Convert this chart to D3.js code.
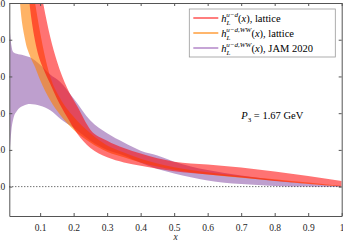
<!DOCTYPE html>
<html>
<head>
<meta charset="utf-8">
<script src="https://cdn.jsdelivr.net/npm/d3@7"></script>
<style>
  body { margin: 0; background: #fff; }
  svg text { font-family: "Liberation Serif", "DejaVu Serif", serif; }
</style>
</head>
<body>
<div id="chart"></div>
<script>
// lattice h_L^{u-d}(x) band
var redX  = [0.05, 0.07, 0.09, 0.11, 0.13, 0.15, 0.18, 0.21, 0.25, 0.3, 0.35, 0.4, 0.45, 0.5, 0.6, 0.7, 0.8, 0.9, 1.0]
var redLo = [6.8, 4.85, 3.75, 3.2, 2.8, 2.4, 1.9, 1.45, 1.05, 0.8, 0.66, 0.57, 0.49, 0.42, 0.33, 0.25, 0.15, 0.07, 0.01]
var redHi = [9.0, 7.2, 6.0, 4.95, 4.08, 3.42, 2.7, 2.2, 1.55, 1.25, 1.05, 0.9, 0.77, 0.68, 0.6, 0.52, 0.41, 0.29, 0.15]

// lattice WW band
var wwX  = [0.03, 0.04, 0.055, 0.07, 0.085, 0.1, 0.13, 0.16, 0.2, 0.25, 0.3, 0.35, 0.4, 0.5, 0.6, 0.7, 0.8, 0.9, 1.0]
var wwLo = [6.5, 5.0, 4.0, 3.55, 3.25, 2.9, 2.35, 1.95, 1.55, 1.2, 0.95, 0.8, 0.66, 0.46, 0.33, 0.24, 0.16, 0.08, 0.0]
var wwHi = [10, 8.5, 7.0, 5.9, 5.0, 4.2, 3.0, 2.4, 1.9, 1.45, 1.12, 0.93, 0.76, 0.53, 0.39, 0.29, 0.2, 0.11, 0.02]

// JAM 2020 WW band
var jamX  = [0.01, 0.015, 0.02, 0.03, 0.05, 0.07, 0.1, 0.13, 0.16, 0.2, 0.25, 0.3, 0.35, 0.4, 0.45, 0.5, 0.6, 0.7, 0.8, 0.9, 1.0]
var jamLo = [1.05, 1.6, 1.85, 2.05, 2.2, 2.25, 2.2, 2.08, 1.85, 1.6, 1.25, 1.0, 0.85, 0.65, 0.48, 0.36, 0.17, 0.07, 0.02, 0.0, -0.01]
var jamHi = [4.2, 3.8, 3.66, 3.62, 3.58, 3.52, 3.32, 3.05, 2.85, 2.4, 1.8, 1.45, 1.2, 0.98, 0.85, 0.68, 0.45, 0.3, 0.18, 0.08, 0.02]

var xTicks = [0.1, 0.2, 0.3, 0.4, 0.5, 0.6, 0.7, 0.8, 0.9, 1]
var yTicks = [0, 1, 2, 3, 4, 5]

var width = 343, height = 244
var margin = {top: 3, right: 1.3, bottom: 28, left: 9.3}
var w = width - margin.left - margin.right,
    h = height - margin.top - margin.bottom

var svg = d3.select("#chart").append("svg")
    .attr("width", width)
    .attr("height", height)

var g = svg.append("g")
    .attr("transform", "translate(" + margin.left + "," + margin.top + ")")

var x = d3.scaleLinear().domain([0.008, 1]).range([0, w])
var y = d3.scaleLinear().domain([-0.8, 5]).range([h, 0])

g.append("clipPath").attr("id", "clip")
  .append("rect").attr("width", w).attr("height", h)

function band(xs, lo, hi) {
  return xs.map(function (v, i) { return {x: v, lo: lo[i], hi: hi[i]} })
}

var area = d3.area()
    .x(function (d) { return x(d.x) })
    .y0(function (d) { return y(d.lo) })
    .y1(function (d) { return y(d.hi) })
    .curve(d3.curveMonotoneX)

var plot = g.append("g").attr("clip-path", "url(#clip)")

plot.append("path").datum(band(jamX, jamLo, jamHi))
    .attr("d", area).attr("fill", "#7e3f9e").attr("fill-opacity", 0.5)
plot.append("path").datum(band(wwX, wwLo, wwHi))
    .attr("d", area).attr("fill", "#ff8000").attr("fill-opacity", 0.6)
plot.append("path").datum(band(redX, redLo, redHi))
    .attr("d", area).attr("fill", "#ff0000").attr("fill-opacity", 0.55)

// zero line
g.append("line")
    .attr("x1", 0).attr("x2", w)
    .attr("y1", y(0)).attr("y2", y(0))
    .attr("stroke", "#000").attr("stroke-width", 0.8)
    .attr("stroke-dasharray", "1,2")

// axes (ticks inside, box all round)
function style(sel) {
  sel.select(".domain").attr("stroke", "#555")
  sel.selectAll(".tick line").attr("stroke", "#555")
  sel.selectAll(".tick text").attr("fill", "#262626").attr("font-size", 9.5)
    .style("font-family", "'Liberation Serif', serif")
}

g.append("g").attr("transform", "translate(0," + h + ")")
  .call(d3.axisBottom(x).tickValues(xTicks).tickFormat(d3.format("")).tickSizeInner(-3).tickSizeOuter(0).tickPadding(8))
  .call(style)
g.append("g")
  .call(d3.axisTop(x).tickValues(xTicks).tickFormat("").tickSizeInner(-3).tickSizeOuter(0))
  .call(style)
g.append("g")
  .call(d3.axisLeft(y).tickValues(yTicks).tickSizeInner(-3).tickSizeOuter(0).tickPadding(4))
  .call(style)
g.append("g").attr("transform", "translate(" + w + ",0)")
  .call(d3.axisRight(y).tickValues(yTicks).tickFormat("").tickSizeInner(-3).tickSizeOuter(0))
  .call(style)

// x label
g.append("text")
    .attr("x", w / 2).attr("y", h + 24)
    .attr("text-anchor", "middle")
    .attr("font-size", 9.5).attr("font-style", "italic")
    .attr("fill", "#262626")
    .text("x")

// P3 annotation
var p = g.append("text")
    .attr("x", 232).attr("y", 116)
    .attr("font-size", 10.5).attr("fill", "#000")
p.append("tspan").attr("font-style", "italic").text("P")
p.append("tspan").attr("font-size", 7).attr("dy", 2.5).text("3")
p.append("tspan").attr("dy", -2.5).text(" = 1.67 GeV")

// legend
var legendColors = ["#ff7070", "#ffae5c", "#c09bd2"]
var legendSup = ["u\u2212d", "u\u2212d,WW", "u\u2212d,WW"]
var legendTail = ["), lattice", "), lattice", "), JAM 2020"]

var lg = g.append("g").attr("transform", "translate(180,6)")
lg.append("rect")
    .attr("width", 146).attr("height", 48)
    .attr("fill", "#fff").attr("stroke", "#999").attr("stroke-width", 0.8)

legendColors.forEach(function (c, i) {
  var yy = 9 + i * 15
  lg.append("line")
      .attr("x1", 4).attr("x2", 29).attr("y1", yy).attr("y2", yy)
      .attr("stroke", c).attr("stroke-width", 1.8)
  var t = lg.append("text")
      .attr("x", 32).attr("y", yy + 4)
      .attr("font-size", 10.5).attr("fill", "#000")
  t.append("tspan").attr("font-style", "italic").text("h")
  t.append("tspan").attr("font-style", "italic").attr("font-size", 7).attr("dy", 2.5).text("L")
  t.append("tspan").attr("font-style", "italic").attr("font-size", 7).attr("dx", -4.2).attr("dy", -7.5).text(legendSup[i])
  t.append("tspan").attr("dy", 5).text("(")
  t.append("tspan").attr("font-style", "italic").text("x")
  t.append("tspan").text(legendTail[i])
})
</script>
</body>
</html>
